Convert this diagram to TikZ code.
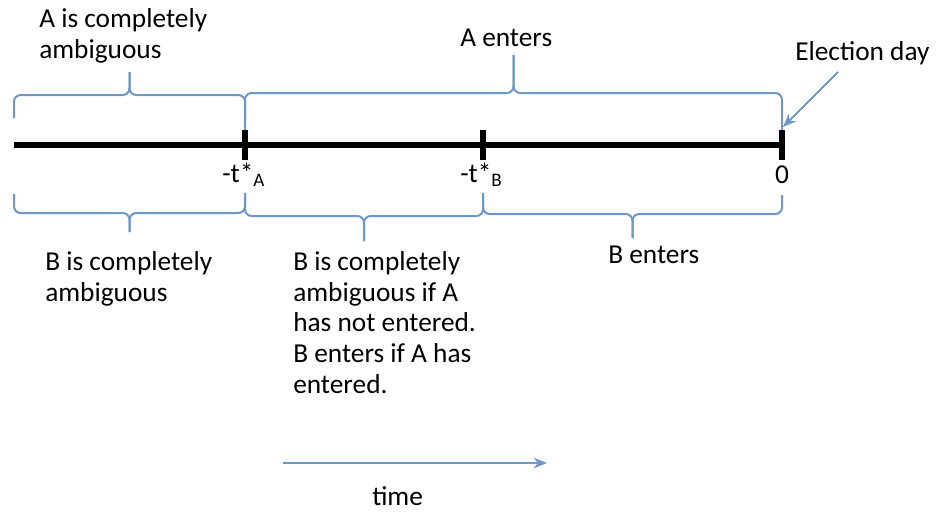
\documentclass[tikz,border=0pt]{standalone}
\usepackage{fontspec}
\setmainfont{Carlito}
\usetikzlibrary{calc,arrows.meta}
\definecolor{braceblue}{RGB}{110,150,200}
% curly bracket: ends #1 and #2, y of ends, y of bar, y of tip
\newcommand{\curly}[5]{%
  \coordinate (m) at ($(#1)!.5!(#2)$);
  \draw[bracket] (#1 |- 0,#3) -- (#1 |- 0,#4) -- (m |- 0,#4) -- (m |- 0,#5);
  \draw[bracket] (#2 |- 0,#3) -- (#2 |- 0,#4) -- (m |- 0,#4) -- (m |- 0,#5);}
\begin{document}
\begin{tikzpicture}[x=0.75pt,y=-0.75pt,
  every node/.style={font=\fontsize{20.5}{23}\selectfont, inner sep=0pt},
  txt/.style={anchor=base west, align=left},
  bracket/.style={draw=braceblue, line width=1.5pt, rounded corners=5pt},
  tickmark/.style={line width=4.5pt},
  arrowline/.style={draw=braceblue, line width=1.5pt, -{Stealth[length=10pt,width=8pt]}}]
  \useasboundingbox (0,0) rectangle (937,514);

  % timeline
  \coordinate (s) at (14,145);
  \coordinate (tA) at (245,145);
  \coordinate (tB) at (483,145);
  \coordinate (t0) at (782,145);
  \draw[line width=3.8pt] (s) -- (t0);
  \foreach \p in {tA,tB,t0}
    \draw[tickmark] ([yshift=11.25pt]\p) -- ([yshift=-11.25pt]\p);

  \node[txt] (lA) at (222,182) {-t*\textsubscript{A}};
  \node[txt] (lB) at (460,182) {-t*\textsubscript{B}};
  \node[anchor=base] (l0) at (782,183) {0};

  % brackets above
  \curly{s}{tA}{118}{95}{72}
  \curly{tA}{t0}{130}{93}{55}
  \node[txt] (Aamb) at (39,58) {A is completely\\ambiguous};
  \node[txt] (Aent) at (460,46) {A enters};

  % brackets below
  \curly{s}{tA}{194}{213}{232}
  \curly{tA}{tB}{193}{216}{241}
  \curly{tB}{t0}{195}{214}{238}
  \node[txt] (Bamb) at (45,301) {B is completely\\ambiguous};
  \node[txt] (Bcond) at (293,393) {B is completely\\ambiguous if A\\has not entered.\\B enters if A has\\entered.};
  \node[txt] (Bent) at (608,263) {B enters};

  % election day
  \node[txt] (eday) at (795,60) {Election day};
  \coordinate (eA) at (838,72);
  \draw[arrowline] (eA) -- ([xshift=0.75pt,yshift=13.5pt]t0);

  % time
  \coordinate (ts) at (283,463);
  \coordinate (te) at (547,463);
  \draw[arrowline] (ts) -- (te);
  \node[txt] (tlab) at (372,505) {time};
\end{tikzpicture}
\end{document}
